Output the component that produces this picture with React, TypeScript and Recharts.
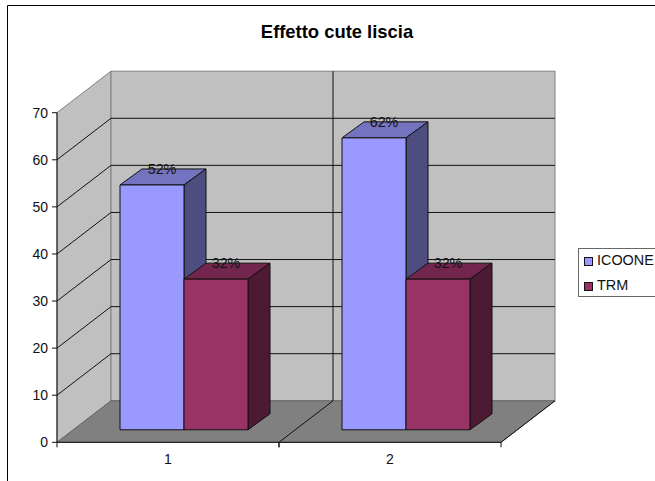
import React from 'react';
import { BarChart, Bar, XAxis, YAxis, CartesianGrid, Legend, LabelList } from 'recharts';

const categories = ['1', '2'];
const icooneValues = [52, 62];
const trmValues = [32, 32];
const yTicks = [0, 10, 20, 30, 40, 50, 60, 70];
const chartTitle = 'Effetto cute liscia';
const seriesNames = ['ICOONE', 'TRM'];

const data = categories.map((c, i) => ({ cat: c, ICOONE: icooneValues[i], TRM: trmValues[i] }));

const FONT = '"Liberation Sans", Arial, sans-serif';
const W = 655, H = 481;
const L = 57, R = 501, T = 112.7, B = 442.3;
const DX = 54, DY = 41.5;
const BAR_SHIFT_X = 16, BAR_SHIFT_Y = 12.5;
const BAR_DX = 22, BAR_DY = 16;
const CAT_W = (R - L) / categories.length;
const INK = '#111';

function Walls() {
  const mid = L + CAT_W;
  return (
    <g>
      <line x1={7.5} y1={5.5} x2={W} y2={5.5} stroke="#000" />
      <line x1={7.5} y1={5.5} x2={7.5} y2={H} stroke="#000" />
      <text x={337} y={38} textAnchor="middle" fontFamily={FONT} fontWeight="bold" fontSize={18.4} fill="#000">{chartTitle}</text>
      <polygon points={`${L},${T} ${L + DX},${T - DY} ${L + DX},${B - DY} ${L},${B}`} fill="#c0c0c0" stroke="#808080" />
      <rect x={L + DX} y={T - DY} width={R - L} height={B - T} fill="#c0c0c0" stroke="#808080" />
      <polygon points={`${L},${B} ${L + DX},${B - DY} ${R + DX},${B - DY} ${R},${B}`} fill="#808080" stroke="#666" />
      <line x1={mid + DX} y1={T - DY} x2={mid + DX} y2={B - DY} stroke={INK} />
      <line x1={mid} y1={B} x2={mid + DX} y2={B - DY} stroke={INK} />
      <line x1={R} y1={B} x2={R + DX} y2={B - DY} stroke={INK} />
    </g>
  );
}

function gridLine(props: any) {
  const { y1, index } = props;
  const edge = Math.abs(y1 - B) < 0.5 || Math.abs(y1 - T) < 0.5;
  return (
    <g key={`g${index}`}>
      {index === 0 ? <Walls /> : null}
      {edge ? null : (
        <polyline points={`${L},${y1} ${L + DX},${y1 - DY} ${R + DX},${y1 - DY}`} fill="none" stroke={INK} strokeWidth={1} />
      )}
    </g>
  );
}

function Box3D(props: any) {
  const { x, y, width, height, front, top, side } = props;
  const fx = x + BAR_SHIFT_X, fy = y - BAR_SHIFT_Y;
  const r = fx + width, b = fy + height;
  return (
    <g stroke={INK} strokeWidth={1} strokeLinejoin="round">
      <polygon points={`${fx},${fy} ${fx + BAR_DX},${fy - BAR_DY} ${r + BAR_DX},${fy - BAR_DY} ${r},${fy}`} fill={top} />
      <polygon points={`${r},${fy} ${r + BAR_DX},${fy - BAR_DY} ${r + BAR_DX},${b - BAR_DY} ${r},${b}`} fill={side} />
      <rect x={fx} y={fy} width={width} height={height} fill={front} />
    </g>
  );
}

function PercentLabel(props: any) {
  const { x, y, width, value } = props;
  return (
    <text x={x + width / 2 + BAR_SHIFT_X + BAR_DX / 2 - 1} y={y - BAR_SHIFT_Y - BAR_DY + 5} textAnchor="middle"
      fontFamily={FONT} fontSize={14.3} fill="#111">{`${value}%`}</text>
  );
}

function CategoryTick(props: any) {
  const { x, payload } = props;
  return (
    <g>
      <line x1={x - CAT_W / 2} y1={B} x2={x - CAT_W / 2} y2={B + 5} stroke={INK} />
      <line x1={x + CAT_W / 2} y1={B} x2={x + CAT_W / 2} y2={B + 5} stroke={INK} />
      <text x={x} y={B + 22} textAnchor="middle" fontFamily={FONT} fontSize={14} fill="#111">{payload.value}</text>
    </g>
  );
}

function LegendBox(props: any) {
  const { payload } = props;
  const ordered = seriesNames.map((n) => (payload || []).find((p: any) => p.value === n)).filter(Boolean);
  return (
    <div style={{ position: 'relative', width: 80, height: 49, background: '#fff', border: '1px solid #666', borderRight: 'none', boxSizing: 'border-box', fontFamily: FONT, fontSize: 14.4, color: '#111' }}>
      {ordered.map((p: any, i: number) => (
        <div key={p.value} style={{ position: 'absolute', left: 5, top: 8 + i * 25, height: 9 }}>
          <span style={{ position: 'absolute', left: 0, top: 0, width: 7, height: 7, background: p.color, border: '1px solid #111', boxSizing: 'content-box' }} />
          <span style={{ position: 'absolute', left: 13, top: -5, lineHeight: '16px', whiteSpace: 'nowrap' }}>{p.value}</span>
        </div>
      ))}
    </div>
  );
}

export default function App() {
  return (
    <div style={{ position: 'absolute', left: 0, top: 0, width: W, height: H, overflow: 'hidden', background: '#fff' }}>
      <BarChart width={W} height={H} data={data} margin={{ top: T, right: W - R, bottom: 0, left: 0 }} barCategoryGap={47} barGap={0}>
        <CartesianGrid horizontal={gridLine as any} vertical={false} />
        <XAxis dataKey="cat" height={H - B} axisLine={{ stroke: INK }} tickLine={false} tick={<CategoryTick />} interval={0} />
        <YAxis width={L} domain={[0, 70]} ticks={yTicks} interval={0} tickSize={5} tickMargin={4}
          axisLine={{ stroke: INK }} tickLine={{ stroke: INK }}
          tick={{ fontFamily: FONT, fontSize: 14, fill: '#111' }} />
        <Legend layout="vertical" align="center" verticalAlign="middle" content={<LegendBox />}
          wrapperStyle={{ position: 'absolute', left: 578, top: 248, width: 80, height: 49, margin: 0 }} />
        <Bar dataKey="ICOONE" fill="#9999ff" isAnimationActive={false}
          shape={(p: any) => <Box3D {...p} front="#9999ff" top="#7373bf" side="#4d4d80" />}>
          <LabelList dataKey="ICOONE" content={<PercentLabel />} />
        </Bar>
        <Bar dataKey="TRM" fill="#993366" isAnimationActive={false}
          shape={(p: any) => <Box3D {...p} front="#993366" top="#73264d" side="#4d1a33" />}>
          <LabelList dataKey="TRM" content={<PercentLabel />} />
        </Bar>
      </BarChart>
    </div>
  );
}
